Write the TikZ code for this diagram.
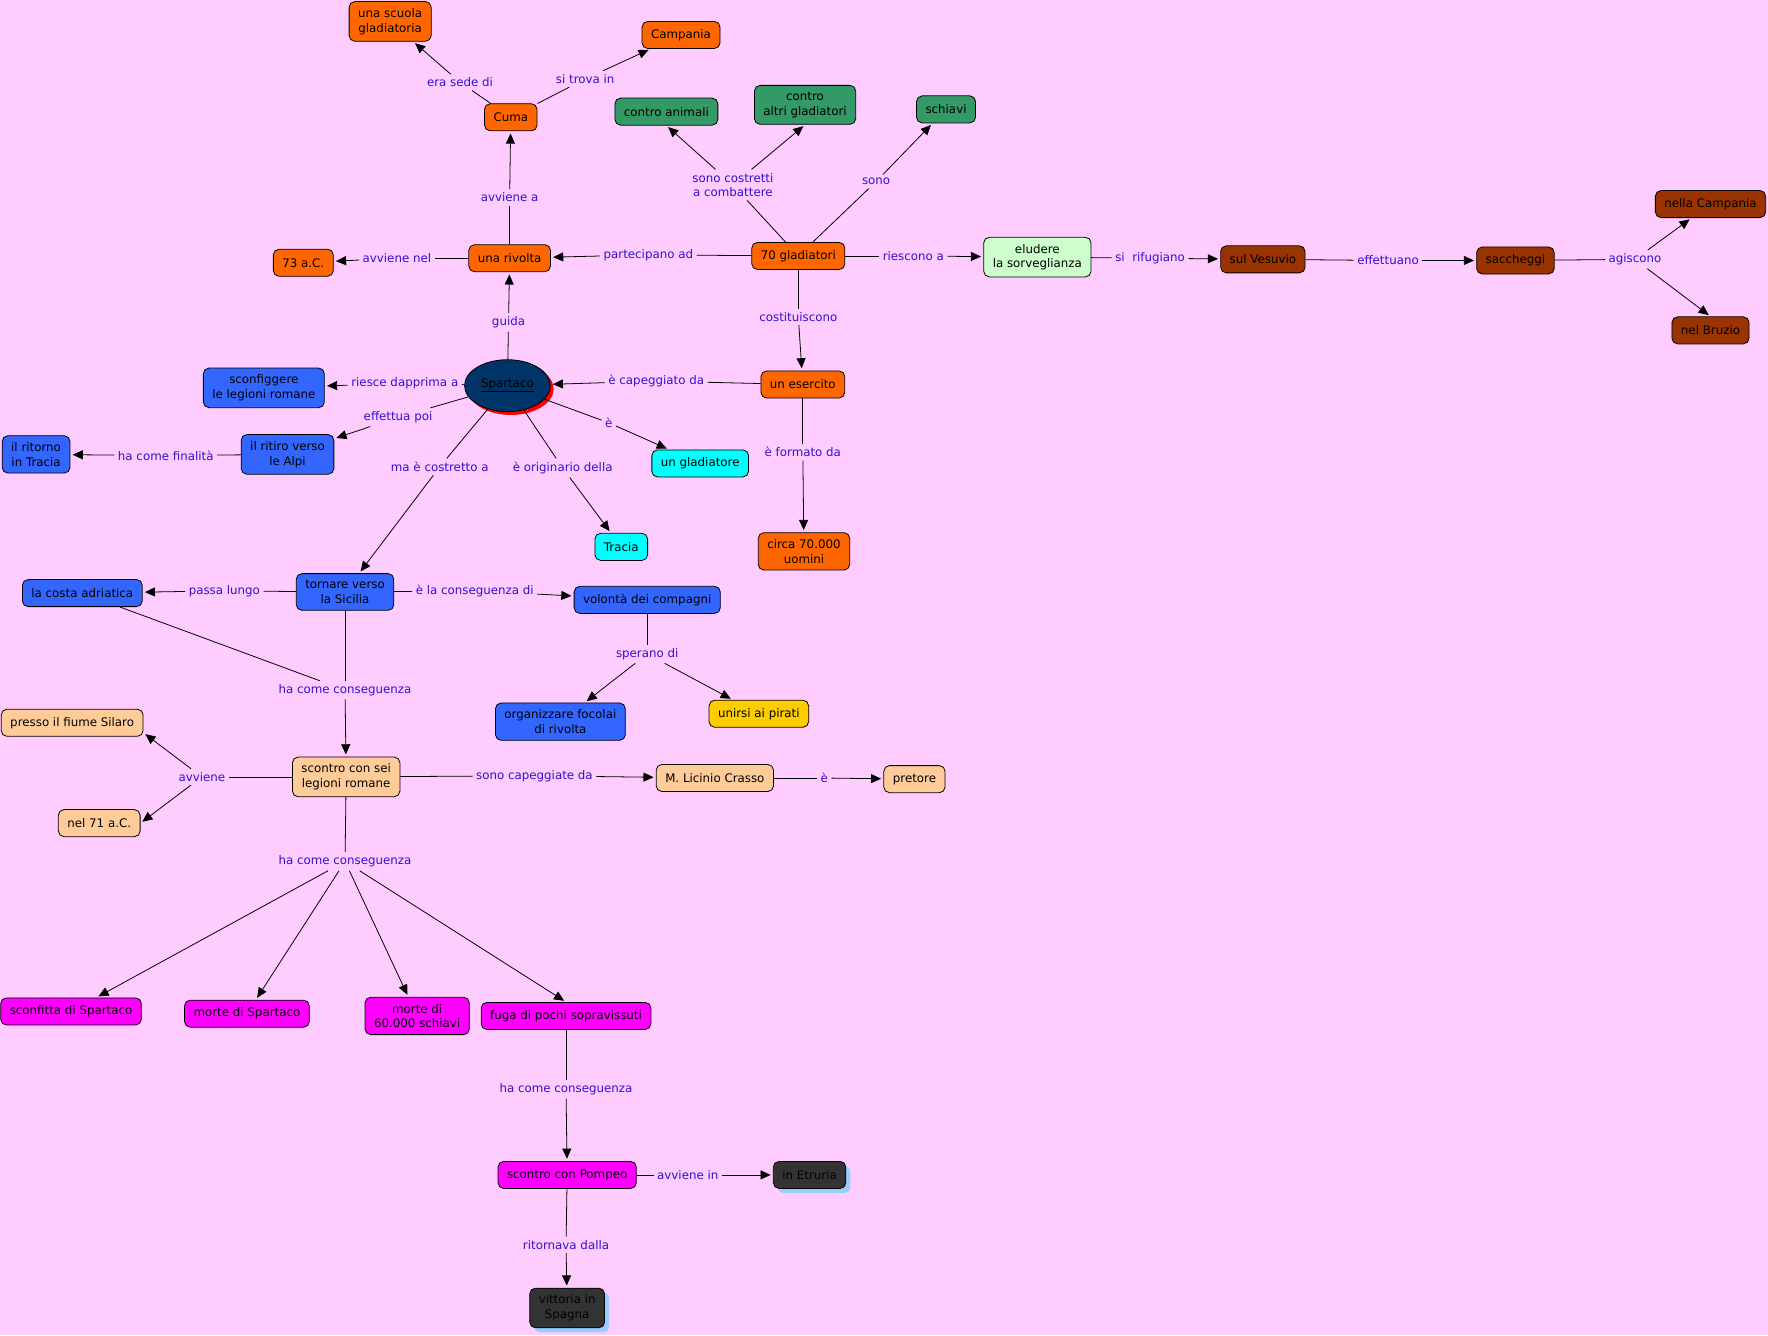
\documentclass[tikz,border=0pt]{standalone}
\usepackage{fontspec}
\setmainfont{DejaVu Sans}
\usetikzlibrary{arrows.meta,shapes.geometric,shadows}
\definecolor{bgc}{HTML}{FFCCFF}
\definecolor{orgc}{HTML}{FF6600}
\definecolor{grnc}{HTML}{339966}
\definecolor{lgrnc}{HTML}{CCFFCC}
\definecolor{brnc}{HTML}{993300}
\definecolor{navyc}{HTML}{003366}
\definecolor{bluc}{HTML}{3366FF}
\definecolor{cyac}{HTML}{00FFFF}
\definecolor{ylwc}{HTML}{FFCC00}
\definecolor{pchc}{HTML}{FFCC99}
\definecolor{magc}{HTML}{FF00FF}
\definecolor{dgrc}{HTML}{333333}
\definecolor{shbc}{HTML}{99CCFF}
\definecolor{linkc}{HTML}{3311CC}
\tikzset{
  cc/.style={draw=black, line width=0.7pt, rounded corners=5pt, inner xsep=8pt, inner ysep=6pt,
    minimum height=24pt, align=center, text=black, font=\fontsize{10.5}{13}\selectfont},
  org/.style={cc, fill=orgc},
  grn/.style={cc, fill=grnc},
  lgrn/.style={cc, fill=lgrnc},
  brn/.style={cc, fill=brnc},
  blu/.style={cc, fill=bluc},
  cya/.style={cc, fill=cyac},
  ylw/.style={cc, fill=ylwc},
  pch/.style={cc, fill=pchc},
  mag/.style={cc, fill=magc},
  dgr/.style={cc, fill=dgrc, drop shadow={fill=shbc, shadow xshift=4pt, shadow yshift=-4pt, opacity=1}},
  lk/.style={text=linkc, inner sep=3pt, align=center, font=\fontsize{10.5}{13}\selectfont},
  ln/.style={draw=black, line width=0.7pt},
  ar/.style={ln, -{Triangle[length=9pt,width=8pt]}, shorten >=2pt},
}
\begin{document}
\begin{tikzpicture}[x=1pt,y=-1pt]
\useasboundingbox (0,0) rectangle (1568,1184);
\fill[bgc] (0,0) rectangle (1568,1184);
% concepts
\node[org] (scuola) at (346,19) {una scuola\\gladiatoria};
\node[org] (campania) at (604,31) {Campania};
\node[org] (cuma) at (453,104) {Cuma};
\node[grn] (animali) at (591,99) {contro animali};
\node[grn] (altri) at (714,93) {contro\\altri gladiatori};
\node[grn] (schiavi) at (839,97) {schiavi};
\node[org] (ac73) at (269,233) {73 a.C.};
\node[org] (rivolta) at (452,229) {una rivolta};
\node[org] (glad) at (708,227) {70 gladiatori};
\node[lgrn] (eludere) at (920,228) {eludere\\la sorveglianza};
\node[brn] (vesuvio) at (1120,230) {sul Vesuvio};
\node[brn] (sacch) at (1344,231) {saccheggi};
\node[brn] (ncamp) at (1517,181) {nella Campania};
\node[brn] (bruzio) at (1517,293) {nel Bruzio};
\node[ellipse, draw=black, line width=0.7pt, fill=navyc, minimum width=76pt, minimum height=46pt, inner sep=0pt,
  font=\fontsize{10.5}{13}\selectfont, text=black,
  drop shadow={fill=red, shadow xshift=3pt, shadow yshift=-3pt, opacity=1}] (spart) at (450,342) {\underline{Spartaco}};
\node[blu] (sconf) at (234,344) {sconfiggere\\le legioni romane};
\node[org] (eserc) at (712,341) {un esercito};
\node[blu] (ritiro) at (255,403) {il ritiro verso\\le Alpi};
\node[blu] (ritorno) at (32,403) {il ritorno\\in Tracia};
\node[cya] (gladiatore) at (621,411) {un gladiatore};
\node[cya] (tracia) at (551,485) {Tracia};
\node[org] (circa) at (713,489) {circa 70.000\\uomini};
\node[blu] (costa) at (73,526) {la costa adriatica};
\node[blu] (tornare) at (306,525) {tornare verso\\la Sicilia};
\node[blu] (volonta) at (574,532) {volontà dei compagni};
\node[blu] (organ) at (497,640) {organizzare focolai\\di rivolta};
\node[ylw] (pirati) at (673,633) {unirsi ai pirati};
\node[pch] (silaro) at (64,641) {presso il fiume Silaro};
\node[pch] (scontro) at (307,689) {scontro con sei\\legioni romane};
\node[pch] (ac71) at (88,730) {nel 71 a.C.};
\node[pch] (crasso) at (634,690) {M. Licinio Crasso};
\node[pch] (pretore) at (811,691) {pretore};
\node[mag] (sconfitta) at (63,897) {sconfitta di Spartaco};
\node[mag] (morte) at (219,899) {morte di Spartaco};
\node[mag] (sessanta) at (370,901) {morte di\\60.000 schiavi};
\node[mag] (fuga) at (502,901) {fuga di pochi sopravissuti};
\node[mag] (pompeo) at (503,1042) {scontro con Pompeo};
\node[dgr] (etruria) at (718,1042) {in Etruria};
\node[dgr] (vittoria) at (503,1160) {vittoria in\\Spagna};
% linking phrases
\node[lk] (l1) at (408,73) {era sede di};
\node[lk] (l2) at (519,70) {si trova in};
\node[lk] (l3) at (650,164) {sono costretti\\a combattere};
\node[lk] (l4) at (777,161) {sono};
\node[lk] (l5) at (452,175) {avviene a};
\node[lk] (l6) at (352,229) {avviene nel};
\node[lk] (l7) at (575,226) {partecipano ad};
\node[lk] (l8) at (810,227) {riescono a};
\node[lk] (l9) at (1020,229) {si~~rifugiano};
\node[lk] (l10) at (1231,231) {effettuano};
\node[lk] (l11) at (1450,230) {agiscono};
\node[lk] (l12) at (451,286) {guida};
\node[lk] (l13) at (708,281) {costituiscono};
\node[lk] (l14) at (359,340) {riesce dapprima a};
\node[lk] (l15) at (582,338) {è capeggiato da};
\node[lk] (l16) at (353,370) {effettua poi};
\node[lk] (l17) at (540,375) {è};
\node[lk] (l18) at (147,404) {ha come finalità};
\node[lk] (l19) at (390,414) {ma è costretto a};
\node[lk] (l20) at (499,415) {è originario della};
\node[lk] (l21) at (712,401) {è formato da};
\node[lk] (l22) at (199,524) {passa lungo};
\node[lk] (l23) at (421,524) {è la conseguenza di};
\node[lk] (l24) at (574,580) {sperano di};
\node[lk] (l25) at (306,612) {ha come conseguenza};
\node[lk] (l26) at (179,689) {avviene};
\node[lk] (l27) at (474,688) {sono capeggiate da};
\node[lk] (l28) at (731,690) {è};
\node[lk] (l29) at (306,764) {ha come conseguenza};
\node[lk] (l30) at (502,966) {ha come conseguenza};
\node[lk] (l31) at (610,1042) {avviene in};
\node[lk] (l32) at (502,1104) {ritornava dalla};
% connectors
\draw[ln] (cuma) -- (l1); \draw[ar] (l1) -- (scuola);
\draw[ln] (cuma) -- (l2); \draw[ar] (l2) -- (campania);
\draw[ln] (rivolta) -- (l5); \draw[ar] (l5) -- (cuma);
\draw[ln] (glad) -- (l3); \draw[ar] (l3) -- (animali.south); \draw[ar] (l3) -- (altri.south);
\draw[ln] (glad) -- (l4); \draw[ar] (l4) -- (schiavi);
\draw[ln] (rivolta) -- (l6); \draw[ar] (l6) -- (ac73);
\draw[ln] (glad) -- (l7); \draw[ar] (l7) -- (rivolta);
\draw[ln] (glad) -- (l8); \draw[ar] (l8) -- (eludere);
\draw[ln] (eludere) -- (l9); \draw[ar] (l9) -- (vesuvio);
\draw[ln] (vesuvio) -- (l10); \draw[ar] (l10) -- (sacch);
\draw[ln] (sacch) -- (l11); \draw[ar] (l11) -- (ncamp); \draw[ar] (l11) -- (bruzio.north);
\draw[ln] (spart) -- (l12); \draw[ar] (l12) -- (rivolta);
\draw[ln] (glad) -- (l13); \draw[ar] (l13) -- (eserc);
\draw[ln] (spart) -- (l14); \draw[ar] (l14) -- (sconf);
\draw[ln] (eserc) -- (l15); \draw[ar] (l15) -- (spart);
\draw[ln] (spart) -- (l16); \draw[ar] (l16) -- (ritiro);
\draw[ln] (spart) -- (l17); \draw[ar] (l17) -- (gladiatore);
\draw[ln] (ritiro) -- (l18); \draw[ar] (l18) -- (ritorno);
\draw[ln] (spart) -- (l19); \draw[ar] (l19) -- (tornare);
\draw[ln] (spart) -- (l20); \draw[ar] (l20) -- (tracia);
\draw[ln] (eserc) -- (l21); \draw[ar] (l21) -- (circa);
\draw[ln] (tornare) -- (l22); \draw[ar] (l22) -- (costa);
\draw[ln] (tornare) -- (l23); \draw[ar] (l23) -- (volonta);
\draw[ln] (volonta) -- (l24); \draw[ar] (l24) -- (organ); \draw[ar] (l24) -- (pirati);
\draw[ln] (tornare) -- (l25); \draw[ln] (costa) -- (l25); \draw[ar] (l25) -- (scontro);
\draw[ln] (scontro) -- (l26); \draw[ar] (l26) -- (silaro.-8); \draw[ar] (l26) -- (ac71.east);
\draw[ln] (scontro) -- (l27); \draw[ar] (l27) -- (crasso);
\draw[ln] (crasso) -- (l28); \draw[ar] (l28) -- (pretore);
\draw[ln] (scontro) -- (l29);
\draw[ar] (l29) -- (sconfitta); \draw[ar] (l29) -- (morte); \draw[ar] (l29) -- (sessanta); \draw[ar] (l29) -- (fuga.north);
\draw[ln] (fuga) -- (l30); \draw[ar] (l30) -- (pompeo);
\draw[ln] (pompeo) -- (l31); \draw[ar] (l31) -- (etruria);
\draw[ln] (pompeo) -- (l32); \draw[ar] (l32) -- (vittoria);
\end{tikzpicture}
\end{document}
